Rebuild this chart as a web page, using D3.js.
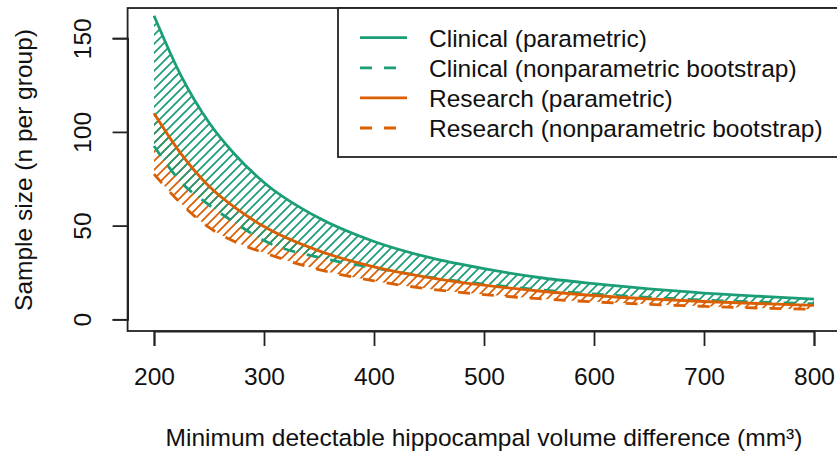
<!DOCTYPE html>
<html>
<head>
<meta charset="utf-8">
<script src="https://cdn.jsdelivr.net/npm/d3@7"></script>
<style>
  body { margin: 0; background: #fff; }
  text { font-family: "Liberation Sans", Arial, Helvetica, sans-serif; fill: #111; }
</style>
</head>
<body>
<svg id="chart" width="837" height="456"></svg>
<script>
// minimum detectable difference (mm3)
const volumeDiff = [200, 225, 250, 275, 300, 350, 400, 450, 500, 550, 600, 650, 700, 750, 800];
// sample size per group
const clinicalParametric = [162, 129.5, 105, 87, 73, 54, 41.5, 33, 27, 22.3, 19, 16.2, 14, 12.3, 10.8];
const clinicalBootstrap  = [92.5, 73, 61, 51, 42, 33, 27.5, 22.5, 18.8, 15.8, 13.5, 11.7, 10.3, 9.2, 8.3];
const researchParametric = [110, 88, 71, 59, 49.5, 36.5, 28, 22.3, 18.2, 15.1, 12.7, 10.9, 9.5, 8.4, 7.4];
const researchBootstrap  = [77.5, 61.5, 49, 41, 35.5, 26.5, 20.5, 16.2, 13.2, 11, 9.3, 8, 6.9, 6, 5.3];

const xTicks = [200, 300, 400, 500, 600, 700, 800];
const yTicks = [0, 50, 100, 150];
const legendLabels = ["Clinical (parametric)", "Clinical (nonparametric bootstrap)",
                      "Research (parametric)", "Research (nonparametric bootstrap)"];

const green = "#1b9e77", orange = "#d95f02";
const fontSize = "24.5px";

let svg = d3.select("#chart");

let x = d3.scaleLinear().domain([200, 800]).range([154, 814]);
let y = d3.scaleLinear().domain([0, 150]).range([319.3, 38.2]);

// plot region (R style 4% padding)
let xr = [176, 824], yr = [-6.25, 166.1];

// hatch patterns, aligned so the lines coincide where they overlap
let defs = svg.append("defs");
function hatch(id, col) {
    let s = 9;
    let p = defs.append("pattern")
        .attr("id", id)
        .attr("patternUnits", "userSpaceOnUse")
        .attr("width", s).attr("height", s);
    p.append("path")
        .attr("d", `M0,${s} L${s},0 M-1,1 L1,-1 M${s - 1},${s + 1} L${s + 1},${s - 1}`)
        .attr("stroke", col)
        .attr("stroke-width", 1.7);
}
hatch("hatch-o", orange);
hatch("hatch-g", green);

let pts = volumeDiff.map((v, i) => ({
    x: v,
    cp: clinicalParametric[i], cb: clinicalBootstrap[i],
    rp: researchParametric[i], rb: researchBootstrap[i]
}));

function band(lo, hi) {
    return d3.area()
        .x(d => x(d.x))
        .y0(d => y(d[lo]))
        .y1(d => y(d[hi]))
        .curve(d3.curveMonotoneX);
}
function line(key) {
    return d3.line()
        .x(d => x(d.x))
        .y(d => y(d[key]))
        .curve(d3.curveMonotoneX);
}

svg.append("path").datum(pts)
    .attr("d", band("rb", "rp"))
    .attr("fill", "url(#hatch-o)");
svg.append("path").datum(pts)
    .attr("d", band("cb", "cp"))
    .attr("fill", "url(#hatch-g)");

let series = [
    { key: "cp", col: green, dash: null },
    { key: "cb", col: green, dash: "12,12" },
    { key: "rp", col: orange, dash: null },
    { key: "rb", col: orange, dash: "12,12" }
];

series.forEach(s => {
    svg.append("path").datum(pts)
        .attr("d", line(s.key))
        .attr("fill", "none")
        .attr("stroke", s.col)
        .attr("stroke-width", 2.8)
        .attr("stroke-dasharray", s.dash);
});

// box
svg.append("rect")
    .attr("x", x(xr[0])).attr("y", y(yr[1]))
    .attr("width", x(xr[1]) - x(xr[0]))
    .attr("height", y(yr[0]) - y(yr[1]))
    .attr("fill", "none")
    .attr("stroke", "#222")
    .attr("stroke-width", 1.8);

// axes
let xAxis = svg.append("g")
    .attr("transform", "translate(0," + y(yr[0]) + ")")
    .call(d3.axisBottom(x).tickValues(xTicks).tickSize(15).tickPadding(22));
let yAxis = svg.append("g")
    .attr("transform", "translate(" + x(xr[0]) + ",0)")
    .call(d3.axisLeft(y).tickValues(yTicks).tickSize(15).tickPadding(0));

[xAxis, yAxis].forEach(a => {
    a.select(".domain").attr("stroke", "#222").attr("stroke-width", 1.8);
    a.selectAll(".tick line").attr("stroke", "#222").attr("stroke-width", 1.8);
    a.selectAll("text")
        .attr("fill", "#111")
        .style("font-family", '"Liberation Sans", Arial, sans-serif')
        .style("font-size", fontSize);
});

yAxis.selectAll(".tick text")
    .attr("x", null).attr("dy", null)
    .attr("text-anchor", "middle")
    .attr("transform", "translate(-37,0) rotate(-90)")
    .attr("y", 0);

// axis titles
svg.append("text")
    .attr("x", 484).attr("y", 446)
    .attr("text-anchor", "middle")
    .style("font-size", fontSize)
    .text("Minimum detectable hippocampal volume difference (mm³)");

svg.append("text")
    .attr("transform", "translate(32,170) rotate(-90)")
    .attr("text-anchor", "middle")
    .style("font-size", fontSize)
    .text("Sample size (n per group)");

// legend
let lg = svg.append("g");
lg.append("rect")
    .attr("x", 338).attr("y", y(yr[1]))
    .attr("width", x(xr[1]) - 338)
    .attr("height", 157 - y(yr[1]))
    .attr("fill", "#fff")
    .attr("stroke", "#222")
    .attr("stroke-width", 1.8);

series.forEach((s, i) => {
    let ly = 37.7 + i * 30.1;
    lg.append("line")
        .attr("x1", 360).attr("x2", 407)
        .attr("y1", ly).attr("y2", ly)
        .attr("stroke", s.col)
        .attr("stroke-width", 2.8)
        .attr("stroke-dasharray", s.dash);
    lg.append("text")
        .attr("x", 429).attr("y", ly)
        .attr("dy", "0.36em")
        .style("font-size", fontSize)
        .text(legendLabels[i]);
});
</script>
</body>
</html>
